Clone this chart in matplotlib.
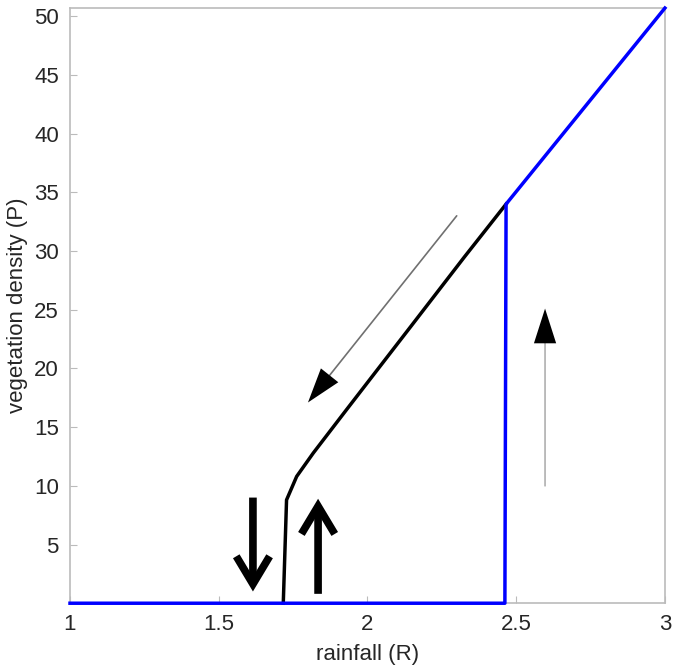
import matplotlib.pyplot as plt

plt.rcParams['font.family'] = ['Liberation Sans', 'DejaVu Sans']

# 上升分支（蓝色）
blue_R = [1.0, 2.462, 2.466, 3.0]
blue_P = [0.0, 0.0, 34.0, 50.7]

# 下降分支（黑色）
black_R = [2.466, 2.326, 2.148, 1.930, 1.818, 1.762, 1.728, 1.717]
black_P = [34.0, 29.5, 23.65, 16.5, 12.8, 10.8, 8.8, 0.0]

xticks = [1, 1.5, 2, 2.5, 3]
yticks = [5, 10, 15, 20, 25, 30, 35, 40, 45, 50]

# 箭头 (起点, 终点, 线颜色)
thin_arrows = [((2.30, 33.0), (1.80, 17.1), '#707070'),
               ((2.597, 10.0), (2.597, 25.1), '#b0b0b0')]
thick_arrows = [((1.615, 9.0), (1.615, 1.0)), ((1.834, 0.8), (1.834, 8.9))]

fig = plt.figure(figsize=(6.73, 6.71), dpi=100)
ax = fig.add_axes([0.104, 0.101, 0.884, 0.887])

ax.plot(black_R, black_P, color='black', lw=2.5, zorder=3, clip_on=False)
ax.plot(blue_R, blue_P, color='#0000ff', lw=2.5, zorder=3, clip_on=False)

for start, end, c in thin_arrows:
    # 灰色箭身
    ax.annotate('', xy=end, xytext=start,
                arrowprops=dict(arrowstyle='-', color=c, lw=1.2,
                                shrinkA=0, shrinkB=8))
    # 黑色箭头头部
    ax.annotate('', xy=end, xytext=start,
                arrowprops=dict(arrowstyle='-|>,head_length=2.5,head_width=0.8',
                                color='black', lw=0, shrinkA=0, shrinkB=0))

for start, end in thick_arrows:
    ax.annotate('', xy=end, xytext=start,
                arrowprops=dict(arrowstyle='->,head_length=2.0,head_width=1.2',
                                color='black', lw=5.5, shrinkA=0, shrinkB=0,
                                joinstyle='miter', capstyle='butt'))

ax.set_xlim(1, 3)
ax.set_ylim(0, 50.7)
ax.set_xticks(xticks)
ax.set_xticklabels([f'{t:g}' for t in xticks])
ax.set_yticks(yticks)
ax.tick_params(direction='in', length=5, color='#bbbbbb', labelsize=16,
               labelcolor='#262626', pad=8)
for s in ax.spines.values():
    s.set_color('#bbbbbb')
    s.set_linewidth(1.2)

ax.set_xlabel('rainfall (R)', fontsize=16, color='#262626', labelpad=6)
ax.set_ylabel('vegetation density (P)', fontsize=16, color='#262626', labelpad=4)

fig.savefig('out.png', dpi=100)
